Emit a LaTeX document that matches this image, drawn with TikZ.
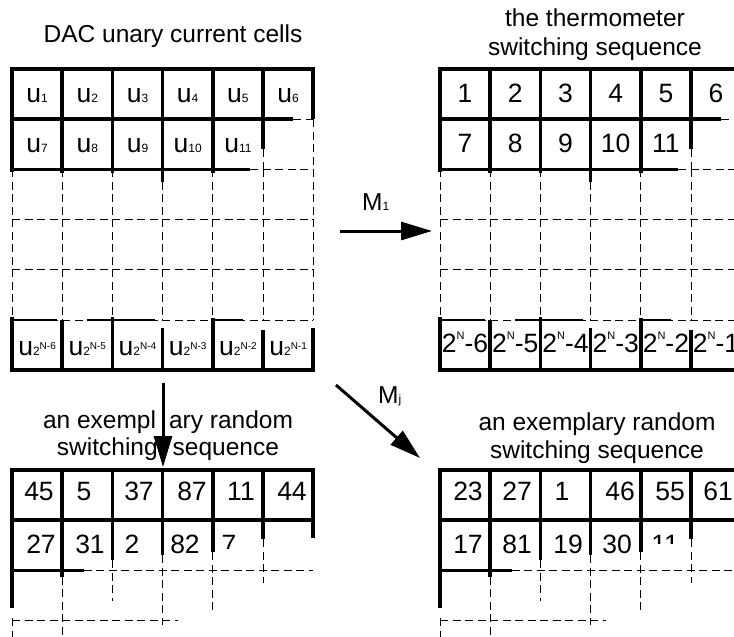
\documentclass[tikz,border=0pt]{standalone}
\usepackage{fontspec}
\setmainfont{Liberation Sans}
\usetikzlibrary{arrows.meta}

\newcommand\cellsub[1]{{\fontsize{12}{12}\selectfont #1}}
\newcommand\cellsup[2][12.7pt]{\raisebox{#1}{\fontsize{11}{11}\selectfont #2}}

\tikzset{
  wall/.style={line width=3.6pt},
  half/.style={line width=2pt},
  fade/.style={line width=0.9pt, dash pattern=on 8pt off 4.5pt},
  lbl/.style={anchor=base, inner sep=0pt, font=\fontsize{26.5}{28}\selectfont},
  ttl/.style={anchor=base, inner sep=0pt, font=\fontsize{24.5}{27}\selectfont},
  arr/.style={line width=3pt, -{Triangle[length=31pt,width=18pt]}},
}

\begin{document}
\begin{tikzpicture}[x=1pt, y=-1pt]
\clip (0,0) rectangle (734,637);

% cells and thermometer order
\foreach \gx in {12,440} {
\begin{scope}[shift={(\gx,69)}, x=50.2pt, y=-50.2pt]
  \draw[wall] (0,2.05) -- (0,0) -- (6,0) -- (6,1);
  \draw[wall] (0,1) -- (5.6,1);
  \draw[wall] (0,2) -- (4.75,2);
  \foreach \k/\e in {1/2.08,2/2.08,3/2.25,4/2.08,5/1.6}
    \draw[wall] (\k,0) -- (\k,\e);
  % cells in between are only hinted
  \foreach \k in {0,...,6}
    \draw[fade] (\k,2) -- (\k,5);
  \draw[fade] (5,1.6) -- (5,2) (6,1) -- (6,2) (5.6,1) -- (6,1) (4.75,2) -- (6,2);
  \foreach \r in {3,4,5}
    \draw[fade] (0,\r) -- (6,\r);
  % last row
  \draw[wall] (0,4.95) -- (0,6) -- (6,6) -- (6,5.15);
  \foreach \k/\s in {1/5,2/4.95,3/5.15,4/4.97,5/5.2}
    \draw[wall] (\k,\s) -- (\k,6);
  \draw[half] (0,5) -- (0.9,5) (1.5,5) -- (2.85,5) (4,5) -- (4.6,5);
\end{scope}
}

% random orders
\foreach \gx in {12,440} {
\begin{scope}[shift={(\gx,470)}, x=50.2pt, y=-50.2pt]
  \draw[wall] (0,2.75) -- (0,0) -- (6,0) -- (6,1.36);
  \draw[wall] (0,1) -- (6,1);
  \draw[wall] (0,2) -- (1.43,2);
  \foreach \k/\e in {1/2.13,2/1.8,3/1.7,4/1.64,5/1.38}
    \draw[wall] (\k,0) -- (\k,\e);
  \draw[fade] (1.43,2) -- (6,2) (0,3) -- (3.3,3) (0,2.95) -- (0,3.5);
  \foreach \k/\s/\e in {1/2.13/3.5,2/1.8/2.6,3/1.7/3.08,4/1.64/2.8,5/1.38/2.25}
    \draw[fade] (\k,\s) -- (\k,\e);
\end{scope}
}

% titles
\node[ttl] (tA) at (173,42) {DAC unary current cells};
\node[ttl] (tB1) at (595,27) {the thermometer};
\node[ttl] (tB2) at (595,55) {switching sequence};
\node[ttl] (tC1) at (168,428) {an exempl\hspace{13pt}ary random};
\node[ttl] (tC2) at (168,455) {switching\hspace{15pt}sequence};
\node[ttl] (tD1) at (597,430) {an exemplary random};
\node[ttl] (tD2) at (597,458) {switching sequence};

% u cells
\foreach \i in {1,...,6}
  \node[lbl] (a\i) at ({12+50.2*(\i-0.5)},102) {u\cellsub{\i}};
\foreach \i in {7,...,11}
  \node[lbl] (a\i) at ({12+50.2*(\i-6.5)},152) {u\cellsub{\i}};
\foreach \t [count=\i] in {6,5,4,3,2,1}
  \node[lbl] (aN\i) at ({12+50.2*(\i-0.5)},355) {u\cellsub{2\cellsup[5.5pt]{\fontsize{10}{10}\selectfont N-\t}}};

% thermometer
\foreach \i in {1,...,6}
  \node[lbl] (b\i) at ({440+50.2*(\i-0.5)},102) {\i};
\foreach \i in {7,...,11}
  \node[lbl] (b\i) at ({440+50.2*(\i-6.5)},152) {\i};
\foreach \t [count=\i] in {6,5,4,3,2,1}
  \node[lbl] (bN\i) at ({440+50.2*(\i-0.5)},352) {2\cellsup{N}-\t};

% random, left
\foreach \v/\x [count=\i] in {45/39,5/84,37/139,87/192,11/241,44/292}
  \node[lbl] (c\i) at (\x,500) {\v};
\foreach \v/\x [count=\i from 7] in {27/41,31/90,2/132,82/185}
  \node[lbl] (c\i) at (\x,553) {\v};
\begin{scope}
  \clip (205,520) rectangle (260,548);
  \node[lbl] (c11) at (229,553) {7};
\end{scope}

% random, right
\foreach \v/\x [count=\i] in {23/468,27/517,1/562,46/620,55/670,61/718}
  \node[lbl] (d\i) at (\x,500) {\v};
\foreach \v/\x [count=\i from 7] in {17/468,81/517,19/568,30/617}
  \node[lbl] (d\i) at (\x,553) {\v};
\begin{scope}
  \clip (645,520) rectangle (690,543);
  \node[lbl] (d11) at (665,553) {11};
\end{scope}

% mappings
\coordinate (m1a) at (340,231);
\coordinate (m1b) at (432,231);
\coordinate (mja) at (336,385);
\coordinate (mjb) at (420,458);
\coordinate (mka) at (163,383);
\coordinate (mkb) at (163,467);
\draw[arr] (m1a) -- (m1b);
\draw[arr] (mja) -- (mjb);
\draw[arr] (mka) -- (mkb);
\node[ttl, anchor=base west] (m1) at (362,210) {M\cellsub{1}};
\node[ttl, anchor=base west] (mj) at (378,403) {M\cellsub{j}};

\end{tikzpicture}
\end{document}
